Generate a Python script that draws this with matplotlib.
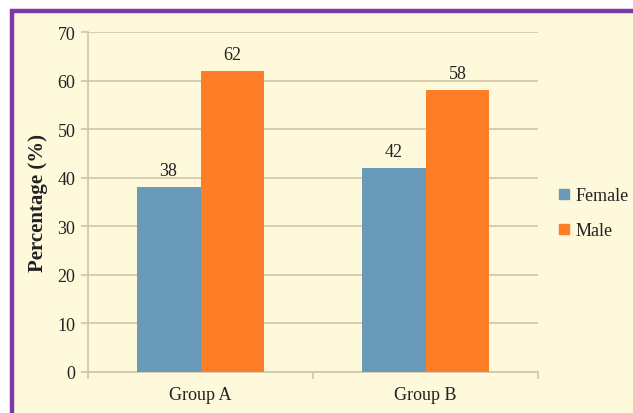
import matplotlib
matplotlib.use("Agg")
import matplotlib.pyplot as plt
from matplotlib.patches import Rectangle
from matplotlib.lines import Line2D

groups = ["Group A", "Group B"]
female = [38, 42]
male = [62, 58]
y_ticks = [0, 10, 20, 30, 40, 50, 60, 70]

BG = "#FEF9DB"
GRID = "#D4C3A5"
FEMALE_C = "#6A9AB9"
MALE_C = "#FD7E26"
TEXT = "#222222"

plt.rcParams["font.family"] = ["Liberation Serif", "DejaVu Serif"]

W, H = 633, 414
fig = plt.figure(figsize=(W / 100, H / 100), dpi=100, facecolor="white")

# cream panel with purple border (cut off at right and bottom)
fig.patches.append(Rectangle((11.5 / W, -0.05), 1.1, 1 - 11.5 / H + 0.05,
                             transform=fig.transFigure, facecolor=BG,
                             edgecolor="#7B3AA6", linewidth=3.2, zorder=-5))

ax = fig.add_axes([88 / W, 1 - 373 / H, 450 / W, 340 / H])
ax.set_facecolor("none")
ax.set_zorder(2)

x = list(range(len(groups)))
w = 0.284
bf = ax.bar([i - w / 2 for i in x], female, width=w, color=FEMALE_C, zorder=3)
bm = ax.bar([i + w / 2 for i in x], male, width=w, color=MALE_C, zorder=3)

for bars, vals in ((bf, female), (bm, male)):
    for b, v in zip(bars, vals):
        ax.annotate(str(v), (b.get_x() + b.get_width() / 2, v),
                    xytext=(0, 6), textcoords="offset points",
                    ha="center", va="bottom", fontsize=13, color=TEXT)

ax.set_xlim(-0.5, len(groups) - 0.5)
ax.set_ylim(0, 70)
ax.set_yticks(y_ticks)
ax.set_xticks(x)
ax.set_xticklabels(groups)
ax.set_xticks([-0.5, 0.5, 1.5], minor=True)
ax.tick_params(axis="x", which="major", length=0, pad=10, labelsize=13, labelcolor=TEXT)
ax.tick_params(axis="x", which="minor", length=5, color=GRID, width=1.2)
ax.tick_params(axis="y", length=5, color=GRID, width=1.2, pad=4, labelsize=13, labelcolor=TEXT)

ax.yaxis.grid(True, color=GRID, linewidth=1.2, zorder=0)
ax.set_axisbelow(True)
for s in ("top", "right"):
    ax.spines[s].set_visible(False)
for s in ("left", "bottom"):
    ax.spines[s].set_color(GRID)
    ax.spines[s].set_linewidth(1.2)

ax.set_ylabel("Percentage (%)", fontsize=15, fontweight="bold", color=TEXT, labelpad=7)

handles = [Line2D([], [], marker="s", linestyle="none", markersize=7,
                  color=c) for c in (FEMALE_C, MALE_C)]
leg = fig.legend(handles, ["Female", "Male"], loc="center left",
                 bbox_to_anchor=(548 / W, 1 - 214 / H), frameon=False,
                 fontsize=13, handletextpad=0.15, labelspacing=1.0,
                 labelcolor=TEXT, handlelength=1.0, borderaxespad=0)
leg.set_zorder(3)

fig.savefig("out.png", dpi=100, facecolor="white")
